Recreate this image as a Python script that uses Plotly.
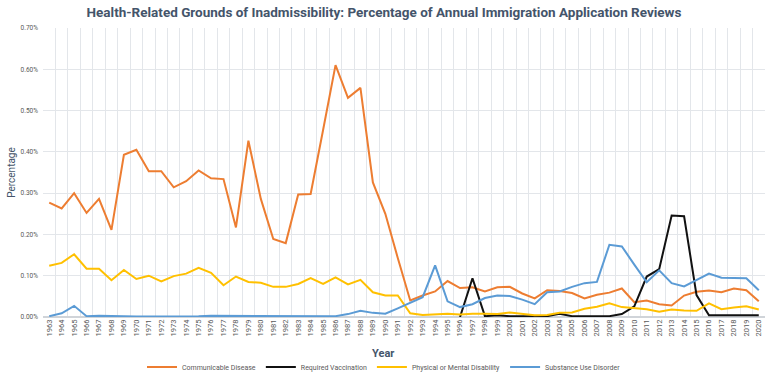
import plotly.graph_objects as go

years = list(range(1963, 2021))

communicable = [0.277, 0.263, 0.300, 0.252, 0.286, 0.211, 0.393, 0.405, 0.353, 0.353,
                0.314, 0.329, 0.355, 0.336, 0.334, 0.217, 0.427, 0.286, 0.189, 0.179,
                0.297, 0.298, 0.453, 0.610, 0.531, 0.555, 0.326, 0.250, 0.143, 0.040,
                0.052, 0.062, 0.087, 0.070, 0.072, 0.062, 0.072, 0.073, 0.057, 0.045,
                0.065, 0.063, 0.058, 0.045, 0.054, 0.059, 0.069, 0.036, 0.040, 0.031,
                0.028, 0.052, 0.061, 0.064, 0.060, 0.069, 0.065, 0.038]

vaccination = [None] * 33 + [0.000, 0.094, 0.002, 0.004, 0.002, 0.002, 0.002, 0.002,
                             0.008, 0.002, 0.002, 0.002, 0.002, 0.007, 0.026, 0.098,
                             0.116, 0.246, 0.244, 0.053, 0.004, 0.004, 0.004, 0.004, 0.004]

disability = [0.124, 0.131, 0.152, 0.117, 0.117, 0.089, 0.114, 0.092, 0.100, 0.086,
              0.099, 0.105, 0.119, 0.107, 0.077, 0.098, 0.085, 0.083, 0.073, 0.073,
              0.080, 0.094, 0.080, 0.096, 0.079, 0.090, 0.060, 0.052, 0.052, 0.009,
              0.005, 0.006, 0.008, 0.006, 0.008, 0.008, 0.007, 0.011, 0.007, 0.004,
              0.005, 0.010, 0.011, 0.020, 0.025, 0.033, 0.024, 0.021, 0.019, 0.013,
              0.018, 0.016, 0.015, 0.033, 0.019, 0.023, 0.026, 0.018]

substance = [0.002, 0.009, 0.027, 0.002, 0.003, 0.003, 0.002, 0.001, 0.001, 0.002,
             0.002, 0.002, 0.002, 0.003, 0.003, 0.003, 0.002, 0.003, 0.003, 0.002,
             0.002, 0.002, 0.002, 0.002, 0.007, 0.015, 0.010, 0.008, 0.021, 0.034,
             0.048, 0.125, 0.038, 0.024, 0.031, 0.046, 0.052, 0.051, 0.042, 0.031,
             0.060, 0.062, 0.073, 0.082, 0.085, 0.175, 0.171, 0.127, 0.084, 0.113,
             0.082, 0.074, 0.090, 0.105, 0.095, 0.094, 0.094, 0.065]

series = [
    ("Communicable Disease", communicable, "#ED7D31"),
    ("Required Vaccination", vaccination, "#111111"),
    ("Physical or Mental Disability", disability, "#FFC000"),
    ("Substance Use Disorder", substance, "#5B9BD5"),
]

fig = go.Figure()
for name, vals, color in series:
    fig.add_trace(go.Scatter(x=years, y=vals, name=name, mode="lines",
                             line=dict(color=color, width=2)))

grid = "#E3E6EA"
plot_h = 376 - 28 - 59
fig.update_layout(
    width=768, height=376,
    margin=dict(l=43, r=3, t=28, b=59),
    paper_bgcolor="white", plot_bgcolor="white",
    title=dict(text="<b>Health-Related Grounds of Inadmissibility: Percentage of Annual Immigration Application Reviews</b>",
               x=0.5, xanchor="center", xref="container", y=1 - 12.5 / 376, yanchor="middle",
               yref="container",
               font=dict(family="Roboto, sans-serif", size=13.5, color="#44546A")),
    font=dict(family="Roboto, sans-serif", color="#595959"),
    showlegend=True,
    legend=dict(orientation="h", x=0.5, xanchor="center", xref="container",
                y=(376 - 367) / 376, yanchor="middle", yref="container",
                font=dict(size=7, color="#595959"), itemwidth=30, tracegroupgap=0,
                bgcolor="rgba(0,0,0,0)"),
    annotations=[dict(text="<b>Year</b>", x=(383 - 43) / 722, xref="paper", xanchor="center",
                      y=-(353 - 317) / plot_h, yref="paper", yanchor="middle",
                      showarrow=False, font=dict(size=11, color="#44546A"))],
)
fig.update_xaxes(
    range=[1962.5, 2020.5], tickmode="array", tickvals=years, ticktext=[str(y) for y in years],
    tickangle=-90, tickfont=dict(size=7.5, color="#595959"), showgrid=False, zeroline=False,
    showline=False, ticks="", automargin=False,
    minor=dict(tickmode="array", tickvals=[y + 0.5 for y in range(1962, 2021)], showgrid=True,
               gridcolor=grid, gridwidth=1),
)
fig.update_yaxes(
    range=[0, 0.70], dtick=0.1, tickformat=".2f", ticksuffix="%",
    tickfont=dict(size=6.5, color="#595959"), gridcolor=grid, gridwidth=1,
    zeroline=True, zerolinecolor="#D0D4D9", showline=False, ticks="", automargin=False,
    ticklabelstandoff=4,
    title=dict(text="Percentage", font=dict(size=10, color="#44546A"), standoff=3),
)

fig.write_html("out.html", config={"displayModeBar": False},
               post_script="document.body.style.margin='0';document.body.style.overflow='hidden';")
